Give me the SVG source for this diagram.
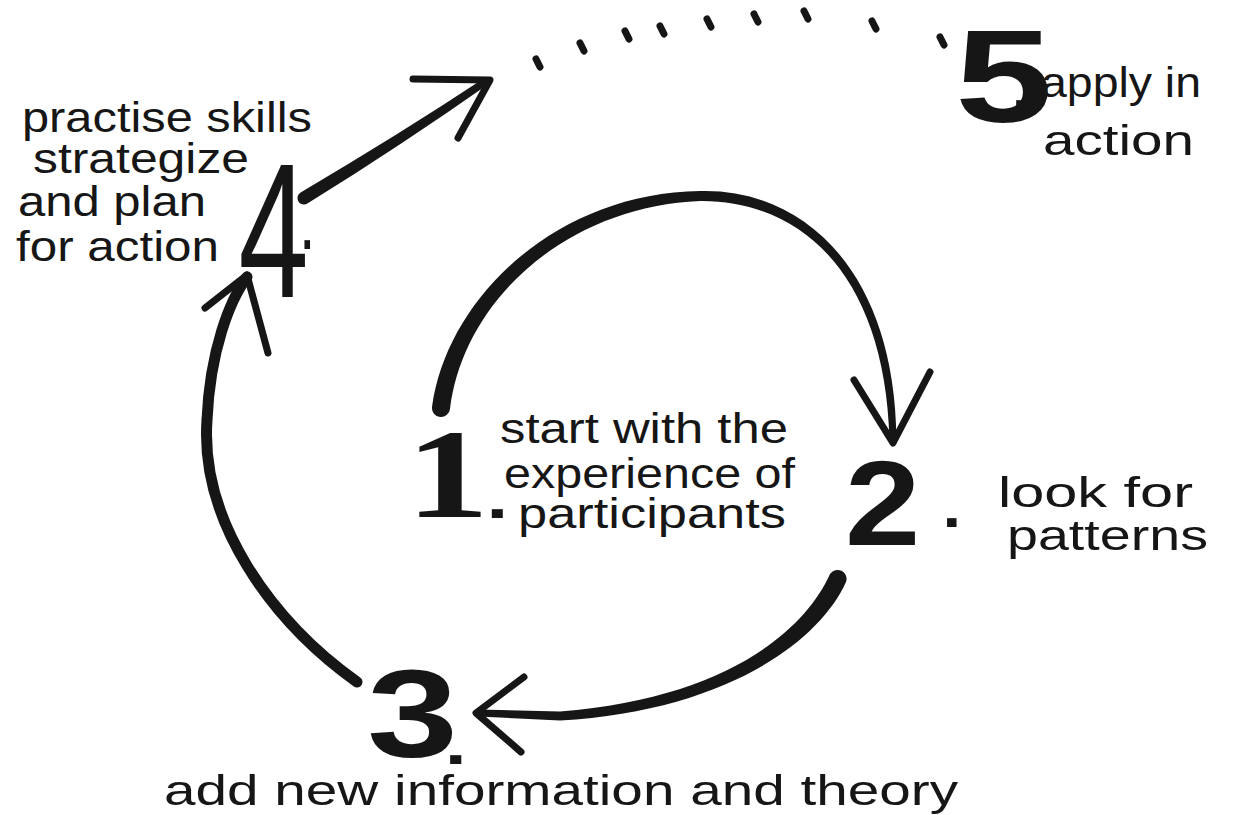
<svg xmlns="http://www.w3.org/2000/svg" width="1238" height="815" viewBox="0 0 1238 815">
<style>
.lbl{font-family:"Liberation Sans",Arial,sans-serif;font-size:42px;fill:#161616;}
.num{font-family:"Liberation Sans",Arial,sans-serif;font-weight:bold;fill:#161616;}
.numthin{font-family:"Liberation Sans",Arial,sans-serif;font-weight:normal;fill:#161616;}
.numserif{font-family:"Liberation Serif","Times New Roman",serif;font-weight:bold;fill:#161616;}
.dot{font-family:"Liberation Sans",Arial,sans-serif;font-weight:bold;font-size:60px;}
.shaft{fill:#161616;stroke:none;}
.line{fill:none;stroke:#161616;stroke-linecap:round;stroke-linejoin:round;}
.head{fill:none;stroke:#161616;stroke-width:7;stroke-linecap:round;stroke-linejoin:round;}
.dots{fill:none;stroke:#161616;stroke-width:7;stroke-linecap:round;}
</style>
<rect width="1238" height="815" fill="#ffffff"/>

<g id="connectors">
  <!-- 1 -> 2 -->
  <path class="shaft" d="M432,407 C447,298 556,193 700,191 C801,188 895,268 896.5,440 L889.5,440 C885,272 799,200 700,201 C564,207 463,302 450,409 A9,9 0 0 1 432,407 Z"/>
  <path class="head" d="M854,380 L893,443 L930,372"/>
  <!-- 2 -> 3 -->
  <path class="shaft" d="M846,582 C818,644 722,711 560,720.5 L478,716.5 L478,709.5 L560,711.5 C718,699 802,636 830,574 A9,9 0 0 1 846,582 Z"/>
  <path class="head" d="M524,677 L476,713 L521,752"/>
  <!-- 3 -> 4 -->
  <path class="line" stroke-width="11" d="M357,682 C270,620 200,520 207,420 C210,350 230,300 247,277"/>
  <path class="head" d="M205,308 L247,275 L268,353"/>
  <!-- 4 -> 5 -->
  <path class="shaft" d="M300.6,192.4 Q397.4,135.7 486,77.1 L490,82.9 Q402.6,144.3 307.4,203.6 A6.5,6.5 0 0 1 300.6,192.4 Z"/>
  <path class="head" d="M413,79 L490,80 L458,138"/>
  <!-- dotted continuation to 5 -->
  <path class="dots" d="M536,59 L540,67 M580,43 L584,51 M625,31 L629,39 M660,26 L664,34 M707,19 L711,27 M754,14 L758,22 M804,11 L808,19 M872,21 L876,29 M940,37 L944,45"/>
</g>

<g id="step1">
  <text class="numserif" font-size="128" transform="translate(406,517) scale(1.3,1)"><tspan x="0" y="0">1</tspan><tspan class="dot" x="62" y="1">.</tspan></text>
  <text class="lbl" x="500" y="443" textLength="288" lengthAdjust="spacingAndGlyphs">start with the</text>
  <text class="lbl" x="504" y="488" textLength="291" lengthAdjust="spacingAndGlyphs">experience of</text>
  <text class="lbl" x="518" y="528" textLength="268" lengthAdjust="spacingAndGlyphs">participants</text>
</g>

<g id="step2">
  <text class="num" font-size="121" transform="translate(845,545) scale(1.12,1)"><tspan x="0" y="0">2</tspan><tspan class="dot" x="87" y="-18">.</tspan></text>
  <text class="lbl" x="998" y="507" textLength="195" lengthAdjust="spacingAndGlyphs">look for</text>
  <text class="lbl" x="1007" y="550" textLength="201" lengthAdjust="spacingAndGlyphs">patterns</text>
</g>

<g id="step3">
  <text class="num" font-size="124" transform="translate(367,757) scale(1.32,1)"><tspan x="0" y="0">3</tspan><tspan class="dot" x="59" y="7">.</tspan></text>
  <text class="lbl" x="164" y="805" textLength="794" lengthAdjust="spacingAndGlyphs">add new information and theory</text>
</g>

<g id="step4">
  <text class="numthin" font-size="191" transform="translate(238.5,297) scale(0.66,1)"><tspan x="0" y="0">4</tspan><tspan class="dot" x="96" y="-48">.</tspan></text>
  <text class="lbl" x="22" y="132" textLength="290" lengthAdjust="spacingAndGlyphs">practise skills</text>
  <text class="lbl" x="33" y="173" textLength="216" lengthAdjust="spacingAndGlyphs">strategize</text>
  <text class="lbl" x="18" y="216" textLength="188" lengthAdjust="spacingAndGlyphs">and plan</text>
  <text class="lbl" x="16" y="261" textLength="203" lengthAdjust="spacingAndGlyphs">for action</text>
</g>

<g id="step5">
  <text class="num" font-size="132" transform="translate(955,122) scale(1.33,1)"><tspan x="0" y="0">5</tspan><tspan class="dot" x="42" y="-13">.</tspan></text>
  <text class="lbl" x="1041" y="97" textLength="160" lengthAdjust="spacingAndGlyphs">apply in</text>
  <text class="lbl" x="1043" y="155" textLength="151" lengthAdjust="spacingAndGlyphs">action</text>
</g>
</svg>
